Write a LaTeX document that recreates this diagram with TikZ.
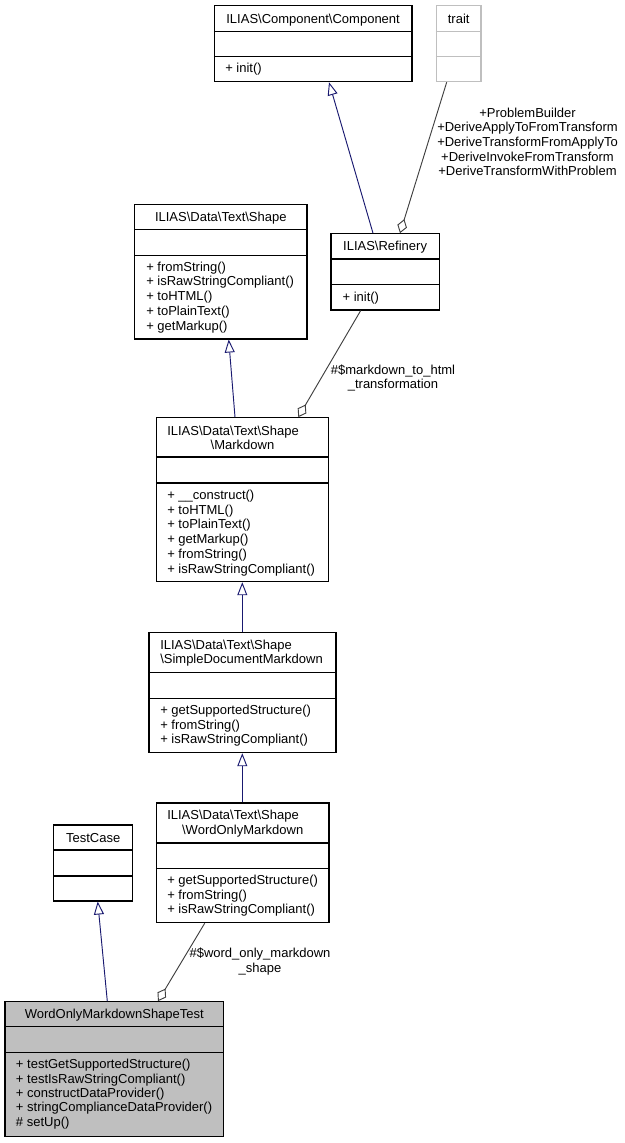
\documentclass[tikz,border=0pt]{standalone}
\usepackage{fontspec}
\setmainfont{Liberation Sans}
\usetikzlibrary{arrows.meta,fit}
\definecolor{inhblue}{RGB}{25,25,112}
\definecolor{agggray}{RGB}{64,64,64}
\definecolor{lgray}{RGB}{191,191,191}
\newcommand{\bs}{\textbackslash{}}
\begin{document}
\begin{tikzpicture}[x=0.75pt,y=-0.75pt,
  font=\fontsize{9.75pt}{11pt}\selectfont,
  cls/.style={draw=black, line width=0.8pt, inner sep=0pt},
  divline/.style={draw=black, line width=0.8pt},
  ttl/.style={anchor=base, inner sep=0pt},
  mem/.style={anchor=base west, inner sep=0pt},
  lbl/.style={align=center, inner sep=0pt},
  inh/.style={draw=inhblue, line width=0.7pt, -{Triangle[open,length=9.75pt,width=7.5pt]}},
  agg/.style={draw=agggray, line width=0.7pt, -{Diamond[open,length=11pt,width=7.5pt]}}]
\fill[white] (0,0) rectangle (625,1143);
\useasboundingbox (0,0) rectangle (625,1143);

% Component
\node[cls, fit={(214.3,5.7) (412,81.7)}] (comp) {};
\draw[divline] (comp.west |- 0,31.3) -- (comp.east |- 0,31.3);
\draw[divline] (comp.west |- 0,56.7) -- (comp.east |- 0,56.7);
\node[ttl] (comp-t) at (313.1,23) {ILIAS\bs Component\bs Component};
\node[mem] (comp-m) at (225,72.5) {+ init()};

% trait
\node[cls, draw=lgray, fit={(436.3,5.7) (481,81.7)}] (trait) {};
\draw[divline, draw=lgray] (trait.west |- 0,31.3) -- (trait.east |- 0,31.3);
\draw[divline, draw=lgray] (trait.west |- 0,56.7) -- (trait.east |- 0,56.7);
\node[ttl] (trait-t) at (458.7,23) {trait};

% Refinery
\node[cls, fit={(331,233.7) (439.3,310)}] (ref) {};
\draw[divline] (ref.west |- 0,259) -- (ref.east |- 0,259);
\draw[divline] (ref.west |- 0,284.7) -- (ref.east |- 0,284.7);
\node[ttl] (ref-t) at (385.1,250.5) {ILIAS\bs Refinery};
\node[mem] (ref-m) at (342.3,301.2) {+ init()};

% Shape
\node[cls, fit={(134.7,204.3) (307,339)}] (shape) {};
\draw[divline] (shape.west |- 0,229.3) -- (shape.east |- 0,229.3);
\draw[divline] (shape.west |- 0,255.3) -- (shape.east |- 0,255.3);
\node[ttl] (shape-t) at (220.8,221.5) {ILIAS\bs Data\bs Text\bs Shape};
\foreach \t [count=\i from 0] in {{+ fromString()},{+ isRawStringCompliant()},{+ toHTML()},{+ toPlainText()},{+ getMarkup()}}
  \node[mem] (shape-m\i) at (146,271+\i*14.8) {\t};

% Markdown
\node[cls, fit={(156.3,417.7) (328.7,581.7)}] (md) {};
\draw[divline] (md.west |- 0,457) -- (md.east |- 0,457);
\draw[divline] (md.west |- 0,483) -- (md.east |- 0,483);
\node[mem] (md-t1) at (167,435.5) {ILIAS\bs Data\bs Text\bs Shape};
\node[ttl] (md-t2) at (242.5,449.5) {\bs Markdown};
\foreach \t [count=\i from 0] in {{+ \_\_construct()},{+ toHTML()},{+ toPlainText()},{+ getMarkup()},{+ fromString()},{+ isRawStringCompliant()}}
  \node[mem] (md-m\i) at (167,499.5+\i*14.7) {\t};

% SimpleDocumentMarkdown
\node[cls, fit={(149,632.7) (336,752.7)}] (sdm) {};
\draw[divline] (sdm.west |- 0,672.3) -- (sdm.east |- 0,672.3);
\draw[divline] (sdm.west |- 0,698.3) -- (sdm.east |- 0,698.3);
\node[mem] (sdm-t1) at (160,649.5) {ILIAS\bs Data\bs Text\bs Shape};
\node[mem] (sdm-t2) at (160,663.5) {\bs SimpleDocumentMarkdown};
\foreach \t [count=\i from 0] in {{+ getSupportedStructure()},{+ fromString()},{+ isRawStringCompliant()}}
  \node[mem] (sdm-m\i) at (160,714.5+\i*14.7) {\t};

% WordOnlyMarkdown
\node[cls, fit={(156.3,803) (329,922.7)}] (wom) {};
\draw[divline] (wom.west |- 0,843) -- (wom.east |- 0,843);
\draw[divline] (wom.west |- 0,868.3) -- (wom.east |- 0,868.3);
\node[mem] (wom-t1) at (167,819.5) {ILIAS\bs Data\bs Text\bs Shape};
\node[ttl] (wom-t2) at (242.7,834) {\bs WordOnlyMarkdown};
\foreach \t [count=\i from 0] in {{+ getSupportedStructure()},{+ fromString()},{+ isRawStringCompliant()}}
  \node[mem] (wom-m\i) at (167,884.5+\i*14.7) {\t};

% TestCase
\node[cls, fit={(53.7,825) (132.7,901)}] (tc) {};
\draw[divline] (tc.west |- 0,850) -- (tc.east |- 0,850);
\draw[divline] (tc.west |- 0,876) -- (tc.east |- 0,876);
\node[ttl] (tc-t) at (93.2,842) {TestCase};

% WordOnlyMarkdownShapeTest
\node[cls, fill=lgray, fit={(5,1001.7) (223.7,1136.7)}] (test) {};
\draw[divline] (test.west |- 0,1026.7) -- (test.east |- 0,1026.7);
\draw[divline] (test.west |- 0,1052.7) -- (test.east |- 0,1052.7);
\node[ttl] (test-t) at (114.3,1018.8) {WordOnlyMarkdownShapeTest};
\foreach \t [count=\i from 0] in {{+ testGetSupportedStructure()},{+ testIsRawStringCompliant()},{+ constructDataProvider()},{+ stringComplianceDataProvider()},{\# setUp()}}
  \node[mem] (test-m\i) at (15.7,1068.8+\i*14.35) {\t};

% connectors
\draw[inh] (ref.north -| 373,0) -- (comp.south -| 329,0);
\draw[agg] (trait.south -| 446.7,0) -- (ref.north -| 400,0);
\draw[inh] (md.north -| 235,0) -- (shape.south -| 228.7,0);
\draw[agg] (ref.south -| 360.7,0) -- (md.north -| 298.3,0);
\draw[inh] (sdm.north -| 242.3,0) -- (md.south -| 242.3,0);
\draw[inh] (wom.north -| 242.3,0) -- (sdm.south -| 242.3,0);
\draw[inh] (test.north -| 107.3,0) -- (tc.south -| 97.7,0);
\draw[agg] (wom.south -| 204.7,0) -- (test.north -| 158,0);

% labels
\node[lbl] (lab1) at (527.5,142) {+ProblemBuilder\\+DeriveApplyToFromTransform\\+DeriveTransformFromApplyTo\\+DeriveInvokeFromTransform\\+DeriveTransformWithProblem};
\node[lbl] (lab2) at (393,378) {\#\$markdown\_to\_html\\\_transformation};
\node[lbl] (lab3) at (260,961.3) {\#\$word\_only\_markdown\\\_shape};
\end{tikzpicture}
\end{document}
